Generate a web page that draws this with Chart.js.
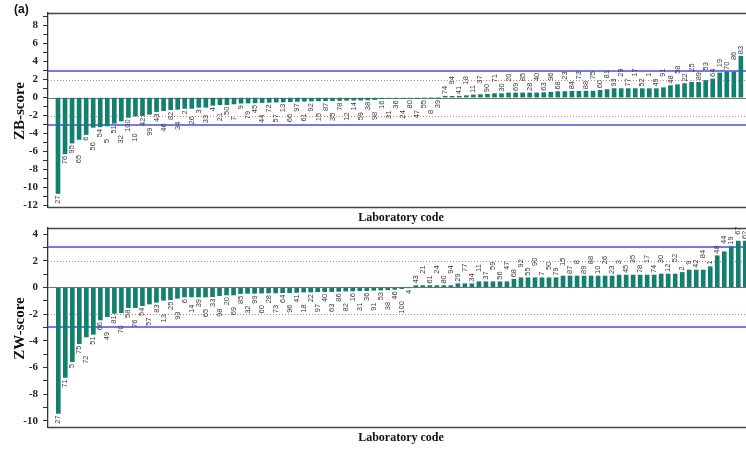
<!DOCTYPE html>
<html>
<head>
<meta charset="utf-8">
<script src="https://cdn.jsdelivr.net/npm/chart.js@4/dist/chart.umd.min.js"></script>
<style>
  html, body { margin: 0; padding: 0; background: #fff; }
  #wrap { position: relative; width: 746px; height: 452px; overflow: hidden; }
  canvas { position: absolute; left: 0; }
</style>
</head>
<body>
<div id="wrap">
  <canvas id="zb" width="746" height="225" style="top:0px"></canvas>
  <canvas id="zw" width="746" height="227" style="top:225px"></canvas>
</div>
<script>
// Laboratory codes, in ranked order, for the between-sample score
const zbLabs = ['27','76','95','65','6','56','54','5','51','32','100','10','42','99','43','46','82','34','2','26',
  '3','33','4','21','50','7','9','79','45','44','72','57','13','66','97','61','92','15','87','35',
  '78','12','14','59','38','98','16','31','36','24','80','47','55','8','39',
  '74','94','41','18','11','37','90','71','30','20','69','85','28','40','63','96','68','23','84','73',
  '88','75','60','81','93','29','77','17','52','1','49','91','48','58','22','25','89','53','64','19',
  '70','86','83'];
const zbScores = [-10.65,-6.25,-5.05,-4.65,-4.1,-3.3,-3.25,-3.15,-2.85,-2.6,-2.2,-2.05,-2.0,-1.85,-1.55,-1.45,-1.35,-1.3,-1.2,-1.2,
  -1.07,-1.07,-0.85,-0.78,-0.78,-0.7,-0.62,-0.6,-0.58,-0.55,-0.52,-0.5,-0.48,-0.45,-0.42,-0.4,-0.38,-0.36,-0.35,-0.33,
  -0.32,-0.3,-0.28,-0.27,-0.25,-0.22,-0.12,-0.1,-0.08,-0.07,-0.06,-0.05,-0.04,-0.03,-0.02,
  0.15,0.15,0.15,0.22,0.3,0.33,0.37,0.44,0.44,0.52,0.52,0.52,0.52,0.52,0.55,0.6,0.67,0.67,0.7,0.7,
  0.72,0.72,0.81,0.89,1.0,1.0,1.0,1.0,1.0,1.0,1.0,1.1,1.33,1.44,1.56,1.7,1.7,1.9,2.07,2.74,
  2.85,2.85,4.6];

// Laboratory codes, in ranked order, for the within-sample score
const zwLabs = ['27','71','5','75','72','51','66','49','81','70','58','76','54','57','83','13','25','93','6','14',
  '39','65','33','98','20','69','85','32','99','60','28','73','64','96','41','18','22','97','40','63',
  '86','82','16','31','36','91','53','38','46','100','4',
  '43','21','61','24','80','94','29','77','34','11','37','59','56','47','68','92','55','90','7','50',
  '79','15','87','8','89','88','10','26','23','3','45','35','78','17','74','30','12','52','2','9',
  '42','84','1','48','44','19','67','62'];
const zwScores = [-9.45,-6.75,-5.58,-4.22,-3.72,-3.52,-2.45,-2.2,-1.95,-1.9,-1.52,-1.52,-1.37,-1.25,-1.12,-0.97,-0.92,-0.82,-0.72,-0.72,
  -0.72,-0.72,-0.7,-0.62,-0.57,-0.57,-0.47,-0.45,-0.45,-0.43,-0.42,-0.42,-0.4,-0.4,-0.38,-0.35,-0.35,-0.33,-0.33,-0.32,
  -0.3,-0.28,-0.27,-0.25,-0.25,-0.22,-0.2,-0.18,-0.15,-0.1,-0.03,
  0.13,0.13,0.13,0.13,0.13,0.13,0.27,0.27,0.27,0.42,0.42,0.42,0.42,0.42,0.6,0.72,0.72,0.72,0.72,0.72,
  0.72,0.85,0.85,0.85,0.85,0.85,0.85,0.85,0.85,0.92,0.92,0.92,0.92,0.92,0.92,1.0,1.0,1.0,1.12,1.3,
  1.3,1.3,1.55,2.37,2.67,3.05,3.47,3.47];

// Axis tick values (labels shown on even values)
const zbTicks = [-12,-11,-10,-9,-8,-7,-6,-5,-4,-3,-2,-1,0,1,2,3,4,5,6,7,8,9];
const zwTicks = [-10,-9,-8,-7,-6,-5,-4,-3,-2,-1,0,1,2,3,4];

// Action (|z| = 3) and warning (|z| = 2) limits
const actionLimits = [3, -3];
const warningLimits = [2, -2];

const BAR = '#13806f';
const BLUE = '#4a4aee';
const RED = '#e2747c';
const SERIF = '"Liberation Serif", "Times New Roman", serif';
const SANS = '"Liberation Sans", Arial, sans-serif';

const overlay = {
  id: 'overlay',
  beforeDatasetsDraw(chart, args, o) {
    const { ctx, chartArea: a, scales: { y } } = chart;
    ctx.save();
    // warning limits
    ctx.strokeStyle = RED; ctx.lineWidth = 1; ctx.setLineDash([1, 2]);
    warningLimits.forEach(v => {
      const py = Math.round(y.getPixelForValue(v)) + 0.5;
      ctx.beginPath(); ctx.moveTo(a.left, py); ctx.lineTo(a.right, py); ctx.stroke();
    });
    // action limits
    ctx.setLineDash([]); ctx.strokeStyle = BLUE; ctx.lineWidth = 1.5;
    actionLimits.forEach(v => {
      const py = Math.round(y.getPixelForValue(v));
      ctx.beginPath(); ctx.moveTo(a.left, py); ctx.lineTo(a.right, py); ctx.stroke();
    });
    // zero line
    ctx.strokeStyle = '#777'; ctx.lineWidth = 1;
    const p0 = Math.round(y.getPixelForValue(0)) + 0.5;
    ctx.beginPath(); ctx.moveTo(a.left, p0); ctx.lineTo(a.right, p0); ctx.stroke();
    ctx.restore();
  },
  afterDatasetsDraw(chart, args, o) {
    const { ctx, chartArea: a } = chart;
    ctx.save();
    // frame top and bottom
    ctx.strokeStyle = '#444'; ctx.lineWidth = 1.3;
    ctx.beginPath();
    ctx.moveTo(a.left, a.top + 0.5); ctx.lineTo(a.right, a.top + 0.5);
    ctx.moveTo(a.left, a.bottom + 0.5); ctx.lineTo(a.right, a.bottom + 0.5);
    ctx.stroke();

    // laboratory code beside each bar end, staggered where they would collide
    const meta = chart.getDatasetMeta(0);
    ctx.font = '7.5px ' + SANS;
    ctx.fillStyle = '#3a3a3a';
    ctx.textBaseline = 'middle';
    ctx.textAlign = 'left';
    let prev = null;
    meta.data.forEach((el, i) => {
      const txt = o.labs[i];
      const len = ctx.measureText(txt).width;
      const neg = o.scores[i] < 0;
      let lo, hi, far = false;
      if (neg) { lo = el.y + 2; hi = lo + len; }
      else { hi = el.y - 2; lo = hi - len; }
      if (prev && !prev.far && prev.neg === neg && lo < prev.hi + 1 && hi > prev.lo - 1) {
        far = true;
        if (neg) { lo = prev.hi + 1.5; hi = lo + len; }
        else { hi = prev.lo - 1.5; lo = hi - len; }
      }
      ctx.save();
      ctx.translate(el.x, hi);
      ctx.rotate(-Math.PI / 2);
      ctx.fillText(txt, 0, 0);
      ctx.restore();
      prev = { lo, hi, far, neg };
    });
    ctx.restore();
  },
  afterDraw(chart, args, o) {
    const { ctx, chartArea: a } = chart;
    ctx.save();
    ctx.fillStyle = '#111';
    // y-axis title
    ctx.font = 'bold 15px ' + SERIF;
    ctx.textAlign = 'center'; ctx.textBaseline = 'middle';
    ctx.save();
    ctx.translate(20, (a.top + a.bottom) / 2 + 1);
    ctx.rotate(-Math.PI / 2);
    ctx.fillText(o.yTitle, 0, 0);
    ctx.restore();
    // x-axis title
    ctx.font = 'bold 12px ' + SERIF;
    ctx.fillText('Laboratory code', 401, o.xTitleY);
    // panel tag
    if (o.tag) {
      ctx.font = 'bold 12px ' + SANS;
      ctx.textAlign = 'left';
      ctx.fillText(o.tag, 14, 10);
    }
    ctx.restore();
  }
};

function makeChart(id, labs, scores, cfg) {
  const points = scores.map((v, i) => ({ x: i + 1, y: v }));
  return new Chart(document.getElementById(id), {
    type: 'bar',
    data: { datasets: [{ data: points, backgroundColor: BAR, borderWidth: 0, barThickness: 4 }] },
    options: {
      responsive: false,
      animation: false,
      events: [],
      layout: { padding: { left: 0, right: 0, top: cfg.padTop, bottom: cfg.padBottom } },
      plugins: {
        legend: { display: false },
        tooltip: { enabled: false },
        overlay: { labs, scores, yTitle: cfg.yTitle, xTitleY: cfg.xTitleY, tag: cfg.tag }
      },
      scales: {
        x: { type: 'linear', min: cfg.xMin, max: cfg.xMax, display: false, offset: false, bounds: 'ticks',
             grid: { offset: false } },
        y: {
          min: cfg.yMin, max: cfg.yMax,
          afterBuildTicks(s) { s.ticks = cfg.ticks.map(v => ({ value: v })); },
          afterFit(s) { s.width = 48; s.paddingTop = 0; s.paddingBottom = 0; },
          ticks: {
            autoSkip: false,
            padding: 5,
            color: '#222',
            font: { family: SERIF, weight: 'bold', size: 11 },
            callback: v => (v % 2 === 0 ? String(v) : '')
          },
          grid: { drawOnChartArea: false, tickLength: 5, color: '#333', lineWidth: 1 },
          border: { color: '#333', width: 1.3 }
        }
      }
    },
    plugins: [overlay]
  });
}

makeChart('zb', zbLabs, zbScores, {
  xMin: -0.42, xMax: 98.73, yMin: -12.15, yMax: 9.4, ticks: zbTicks,
  padTop: 13, padBottom: 18, yTitle: 'ZB-score', xTitleY: 218, tag: '(a)'
});
makeChart('zw', zwLabs, zwScores, {
  xMin: -0.47, xMax: 99.1, yMin: -10.47, yMax: 4.45, ticks: zwTicks,
  padTop: 3, padBottom: 25, yTitle: 'ZW-score', xTitleY: 213, tag: null
});
</script>
</body>
</html>
